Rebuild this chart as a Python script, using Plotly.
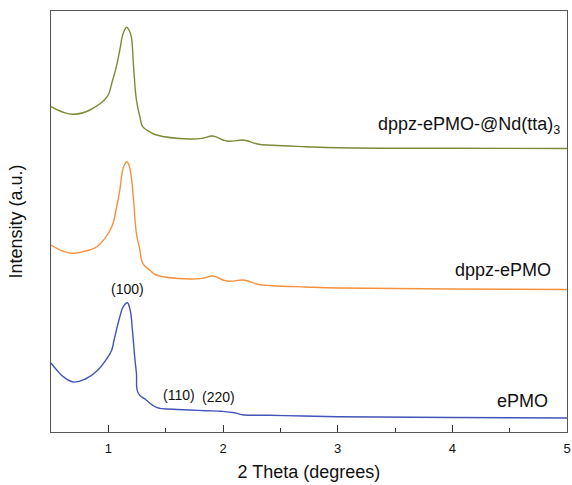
import plotly.graph_objects as go

# 2 Theta (degrees)
x_epmo = [0.5, 0.55, 0.6, 0.695, 0.8, 0.9, 0.99, 1.03, 1.05, 1.10, 1.13, 1.165, 1.19, 1.21, 1.23, 1.245, 1.26,
          1.33, 1.42, 1.56, 1.71, 1.85, 1.99, 2.1, 2.17, 2.4, 2.7, 3.0, 4.0, 5.0]
y_epmo = [69, 62, 56, 50, 53, 61, 74, 82, 92, 115, 125.3, 129.3, 122, 102, 75, 58.7, 39,
          32, 24.7, 22.7, 22, 21.3, 20.7, 19.3, 17.3, 16.7, 16, 15.3, 14.5, 14]

x_dppz = [0.5, 0.6, 0.68, 0.8, 0.9, 1.03, 1.067, 1.10, 1.13, 1.16, 1.18, 1.20, 1.22, 1.245, 1.275, 1.30, 1.36,
          1.42, 1.71, 1.82, 1.91, 2.0, 2.055, 2.17, 2.21, 2.30, 2.43, 2.72, 3.01, 4.0, 5.0]
y_dppz = [187, 181, 178.7, 181, 185.3, 205.3, 222, 242, 264, 270.3, 267, 255.3, 232, 198.7, 182, 168.7, 162,
          157, 153, 153.7, 156, 152, 150.7, 152, 151.3, 147.7, 146.3, 145, 144, 143, 142.5]

x_nd = [0.5, 0.6, 0.70, 0.84, 0.99, 1.03, 1.07, 1.10, 1.13, 1.16, 1.18, 1.20, 1.22, 1.245, 1.275, 1.30, 1.36,
        1.42, 1.71, 1.82, 1.91, 2.0, 2.055, 2.17, 2.21, 2.30, 2.43, 2.72, 3.01, 4.0, 5.0]
y_nd = [325.3, 320, 317.7, 322, 335.3, 348.7, 365.3, 382, 398.7, 404.7, 402, 395.3, 365.3, 332, 315.3, 305.3, 300.3,
        297, 293, 293.7, 296, 292, 290.7, 292, 291.3, 288, 286.7, 285.3, 284.3, 283.7, 283.5]

series_names = ["ePMO", "dppz-ePMO", "dppz-ePMO-@Nd(tta)<sub>3</sub>"]
series_colors = ["#4254B8", "#F5913C", "#7E8A38"]
peak_labels = ["(100)", "(110)", "(220)"]
peak_x = [1.165, 1.62, 1.96]
peak_y = [143, 37, 35]

fig = go.Figure()
for xs, ys, name, col in zip([x_epmo, x_dppz, x_nd], [y_epmo, y_dppz, y_nd], series_names, series_colors):
    fig.add_trace(go.Scatter(x=xs, y=ys, mode="lines", name=name,
                             line=dict(color=col, width=1.4, shape="spline", smoothing=1.2)))

# series labels
label_x = [4.85, 4.877, 4.955]
label_y = [31, 162, 307]
for name, lx, ly in zip(series_names, label_x, label_y):
    fig.add_annotation(x=lx, y=ly, text=name, showarrow=False, xanchor="right", yanchor="middle",
                       font=dict(family="Liberation Sans, Arial", size=18, color="#111111"))
for t, px, py in zip(peak_labels, peak_x, peak_y):
    fig.add_annotation(x=px, y=py, text=t, showarrow=False, xanchor="center", yanchor="middle",
                       font=dict(family="Liberation Sans, Arial", size=14, color="#111111"))

fig.update_layout(
    width=572, height=485,
    margin=dict(l=51, r=5, t=11, b=53),
    paper_bgcolor="white", plot_bgcolor="white",
    showlegend=False,
    font=dict(family="Liberation Sans, Arial", color="#111111"),
)
fig.update_xaxes(range=[0.5, 5], tickvals=[1, 2, 3, 4, 5], ticks="inside", ticklen=7, tickcolor="#333333",
                 showline=True, linecolor="#555555", linewidth=1.2, mirror=True, showgrid=False, zeroline=False,
                 tickfont=dict(size=13), ticklabelstandoff=4, automargin=False,
                 title=dict(text="2 Theta (degrees)", font=dict(size=18), standoff=10),
                 minor=dict(tickvals=[1.5, 2.5, 3.5, 4.5], ticks="inside", ticklen=4, tickcolor="#333333"))
fig.update_yaxes(range=[0, 421], showticklabels=False, ticks="", showline=True, linecolor="#555555",
                 linewidth=1.2, mirror=True, showgrid=False, zeroline=False, automargin=False,
                 title=dict(text="Intensity (a.u.)", font=dict(size=18), standoff=22))

fig.write_html("out.html")
